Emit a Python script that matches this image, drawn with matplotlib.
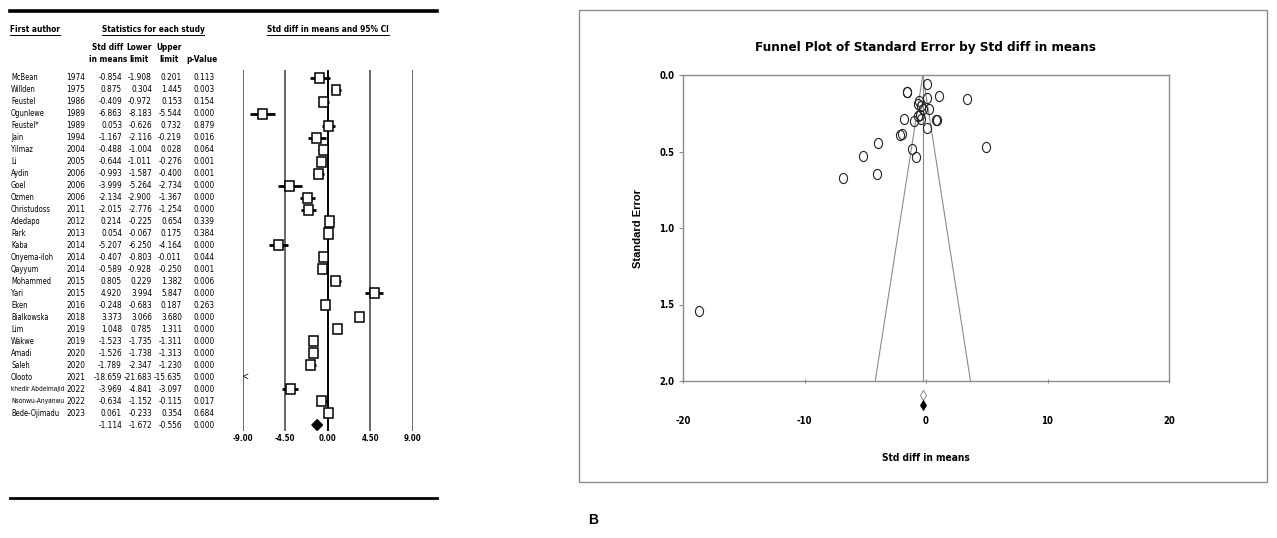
import os
import matplotlib
matplotlib.use("Agg")
import matplotlib.pyplot as plt
from matplotlib import font_manager
from matplotlib.font_manager import FontProperties
from matplotlib.patches import Rectangle, Polygon
from matplotlib.lines import Line2D
from matplotlib.path import Path
from matplotlib.transforms import Affine2D, blended_transform_factory

# data
authors = ["McBean", "Willden", "Feustel", "Ogunlewe", "Feustel*", "Jain", "Yilmaz", "Li",
           "Aydin", "Goel", "Ozmen", "Christudoss", "Adedapo", "Park", "Kaba", "Onyema-iloh",
           "Qayyum", "Mohammed", "Yari", "Eken", "Bialkowska", "Lim", "Wakwe", "Amadi", "Saleh",
           "Olooto", "khedir Abdelmajid", "Nsonwu-Anyanwu", "Bede-Ojimadu"]
years = [1974, 1975, 1986, 1989, 1989, 1994, 2004, 2005, 2006, 2006, 2006, 2011, 2012, 2013,
         2014, 2014, 2014, 2015, 2015, 2016, 2018, 2019, 2019, 2020, 2020, 2021, 2022, 2022, 2023]
smd = [-0.854, 0.875, -0.409, -6.863, 0.053, -1.167, -0.488, -0.644, -0.993, -3.999, -2.134,
       -2.015, 0.214, 0.054, -5.207, -0.407, -0.589, 0.805, 4.920, -0.248, 3.373, 1.048,
       -1.523, -1.526, -1.789, -18.659, -3.969, -0.634, 0.061]
lower = [-1.908, 0.304, -0.972, -8.183, -0.626, -2.116, -1.004, -1.011, -1.587, -5.264, -2.900,
         -2.776, -0.225, -0.067, -6.250, -0.803, -0.928, 0.229, 3.994, -0.683, 3.066, 0.785,
         -1.735, -1.738, -2.347, -21.683, -4.841, -1.152, -0.233]
upper = [0.201, 1.445, 0.153, -5.544, 0.732, -0.219, 0.028, -0.276, -0.400, -2.734, -1.367,
         -1.254, 0.654, 0.175, -4.164, -0.011, -0.250, 1.382, 5.847, 0.187, 3.680, 1.311,
         -1.311, -1.313, -1.230, -15.635, -3.097, -0.115, 0.354]
pvals = [0.113, 0.003, 0.154, 0.000, 0.879, 0.016, 0.064, 0.001, 0.001, 0.000, 0.000, 0.000,
         0.339, 0.384, 0.000, 0.044, 0.001, 0.006, 0.000, 0.263, 0.000, 0.000, 0.000, 0.000,
         0.000, 0.000, 0.000, 0.017, 0.684]
summary = (-1.114, -1.672, -0.556, 0.000)

# standard errors for the funnel plot
std_err = [0.538, 0.291, 0.287, 0.673, 0.346, 0.484, 0.263, 0.188, 0.303, 0.645, 0.391, 0.388,
           0.224, 0.062, 0.532, 0.202, 0.173, 0.294, 0.473, 0.222, 0.157, 0.134, 0.108, 0.108,
           0.285, 1.543, 0.445, 0.265, 0.150]
fixed_effect = -0.259

forest_ticks = [-9, -4.5, 0, 4.5, 9]
funnel_xticks = [-20, -10, 0, 10, 20]
funnel_yticks = [0.0, 0.5, 1.0, 1.5, 2.0]

plt.rcParams["font.family"] = ["Liberation Sans", "DejaVu Sans"]
plt.rcParams["axes.unicode_minus"] = False

# look for a narrow face (the original uses Arial Narrow)
files = {os.path.basename(f.fname): f.fname for f in font_manager.fontManager.ttflist}
candidates = [("LiberationSansNarrow-Regular.ttf", "LiberationSansNarrow-Bold.ttf", 1.0),
              ("NotoSans-Condensed.ttf", "NotoSans-CondensedBold.ttf", 0.93),
              ("DejaVuSansCondensed.ttf", "DejaVuSansCondensed-Bold.ttf", 0.86)]
reg_file, bold_file, scale = None, None, 0.84
for r_name, b_name, sc in candidates:
    if r_name in files:
        reg_file = files[r_name]
        bold_file = files.get(b_name, files[r_name])
        scale = sc
        break


def font(size, bold=False):
    if reg_file is None:
        return FontProperties(family=["Liberation Sans", "DejaVu Sans"], size=size * scale,
                              weight="bold" if bold else "normal")
    return FontProperties(fname=bold_file if bold else reg_file, size=size * scale)


W, H = 1277, 538
fig = plt.figure(figsize=(W / 100, H / 100), dpi=100)


def fx(p):
    return p / W


def fy(p):
    return 1 - p / H


# ---------------- left panel: forest plot table ----------------
fig.add_artist(Line2D([fx(10), fx(437)], [fy(11), fy(11)], lw=2.6, color="black"))
fig.add_artist(Line2D([fx(10), fx(437)], [fy(498), fy(498)], lw=2.0, color="black"))

fs = 6.9
fs_name = 6.3
headers = []
headers.append(fig.text(fx(10), fy(29), "First author", ha="left", va="center", fontproperties=font(fs, True)))
headers.append(fig.text(fx(153), fy(29), "Statistics for each study", ha="center", va="center", fontproperties=font(fs, True)))
headers.append(fig.text(fx(328), fy(29), "Std diff in means and 95% CI", ha="center", va="center", fontproperties=font(fs, True)))

sub = [("Std diff", "in means", 108), ("Lower", "limit", 139), ("Upper", "limit", 169), ("", "p-Value", 202)]
for l1, l2, x in sub:
    if l1:
        fig.text(fx(x), fy(48), l1, ha="center", va="center", fontproperties=font(fs, True))
    fig.text(fx(x), fy(60), l2, ha="center", va="center", fontproperties=font(fs, True))

ax_f = fig.add_axes([fx(242.7), fy(431), fx(170), (431 - 69.5) / H])
ax_f.set_xlim(-9, 9)
n = len(authors)
ax_f.set_ylim(n + 0.5, -0.7)
for s in ax_f.spines.values():
    s.set_visible(False)
ax_f.set_yticks([])
ax_f.set_xticks(forest_ticks)
ax_f.set_xticklabels(["%.2f" % t for t in forest_ticks])
ax_f.tick_params(axis="x", length=0, pad=2)
for lab in ax_f.get_xticklabels():
    lab.set_fontproperties(font(6.6, True))
for t in forest_ticks:
    ax_f.axvline(t, color="black" if t == 0 else "#404040", lw=1.4 if t == 0 else 1.1, zorder=1)

tr = blended_transform_factory(fig.transFigure, ax_f.transData)
name_txt, year_txt = [], []
for i in range(n):
    name_txt.append(ax_f.text(fx(11), i, authors[i], transform=tr, ha="left", va="center",
                              fontproperties=font(fs_name), clip_on=False))
    year_txt.append(ax_f.text(fx(85), i, str(years[i]), transform=tr, ha="right", va="center",
                              fontproperties=font(fs), clip_on=False))
    for val, x in zip([smd[i], lower[i], upper[i], pvals[i]], [122, 152, 182, 215]):
        ax_f.text(fx(x), i, "%.3f" % val, transform=tr, ha="right", va="center", fontproperties=font(fs),
                  clip_on=False)

    if upper[i] < -9:
        ax_f.text(-9, i, "<", ha="left", va="center", fontsize=7, clip_on=False)
        continue
    ax_f.plot([max(lower[i], -9), min(upper[i], 9)], [i, i], color="black", lw=2.0, zorder=2,
              solid_capstyle="butt")
    ax_f.add_patch(Rectangle((smd[i] - 0.47, i - 0.42), 0.94, 0.84, facecolor="white",
                             edgecolor="black", lw=1.1, zorder=3))

for val, x in zip(summary, [122, 152, 182, 215]):
    ax_f.text(fx(x), n, "%.3f" % val, transform=tr, ha="right", va="center", fontproperties=font(fs),
              clip_on=False)
eff, lo, hi, _ = summary
ax_f.add_patch(Polygon([(lo, n), (eff, n - 0.45), (hi, n), (eff, n + 0.45)], closed=True,
                       facecolor="black", edgecolor="black", zorder=3))

# ---------------- right panel: funnel plot ----------------
fig.add_artist(Rectangle((fx(579), fy(482)), fx(1267 - 579), (482 - 10) / H, transform=fig.transFigure,
                         fill=False, edgecolor="#8c8c8c", lw=1.0))
fig.text(fx(926), fy(47), "Funnel Plot of Standard Error by Std diff in means", ha="center", va="center",
         fontproperties=font(11.2, True))

ax_p = fig.add_axes([fx(683), fy(381), fx(486), 306 / H])
ax_p.set_xlim(-20, 20)
ax_p.set_ylim(2.0, 0.0)
for s in ax_p.spines.values():
    s.set_color("#8c8c8c")
    s.set_linewidth(1.0)
ax_p.set_xticks(funnel_xticks)
ax_p.set_yticks(funnel_yticks)
ax_p.set_yticklabels(["%.1f" % t for t in funnel_yticks])
ax_p.tick_params(axis="x", length=3, direction="inout", color="#8c8c8c", pad=24)
ax_p.tick_params(axis="y", length=3, direction="out", color="#8c8c8c", pad=3)
for lab in ax_p.get_xticklabels() + ax_p.get_yticklabels():
    lab.set_fontproperties(font(8, True))
ax_p.set_xlabel("Std diff in means", fontproperties=font(8.5, True), labelpad=19)
ax_p.set_ylabel("Standard Error", fontsize=8, weight="bold", labelpad=12)

ax_p.plot([fixed_effect, fixed_effect - 1.96 * 2.0], [0, 2.0], color="#8c8c8c", lw=0.8)
ax_p.plot([fixed_effect, fixed_effect + 1.96 * 2.0], [0, 2.0], color="#8c8c8c", lw=0.8)
ax_p.plot([fixed_effect, fixed_effect], [0, 2.0], color="#8c8c8c", lw=0.8)

# slightly tall open ellipses, like the original
circ = Path.unit_circle()
ellipse = Path(Affine2D().scale(0.8, 1.0).transform(circ.vertices), circ.codes)
ax_p.plot(smd, std_err, linestyle="none", marker=ellipse, ms=7.3, mfc="none", mec="#222222", mew=0.8,
          clip_on=False)

ax_p.plot([fixed_effect], [2.09], marker="d", ms=5, mfc="white", mec="#777777", mew=0.6, clip_on=False)
ax_p.plot([fixed_effect], [2.16], marker="d", ms=5, mfc="black", mec="black", mew=0.6, clip_on=False)

fig.text(fx(588), fy(520), "B", ha="left", va="center", fontsize=10, weight="bold")

# shrink long author names that would run into the year column, underline headers
fig.canvas.draw()
r = fig.canvas.get_renderer()
for nt, yt in zip(name_txt, year_txt):
    size = fs_name
    while nt.get_window_extent(renderer=r).x1 > yt.get_window_extent(renderer=r).x0 - 1 and size > 4:
        size -= 0.1
        nt.set_fontproperties(font(size))
for t in headers:
    bb = t.get_window_extent(renderer=r)
    yline = bb.y0 - 1
    fig.add_artist(Line2D([bb.x0 / W, bb.x1 / W], [yline / H, yline / H], lw=0.7, color="black"))

fig.savefig("out.png", dpi=100)
